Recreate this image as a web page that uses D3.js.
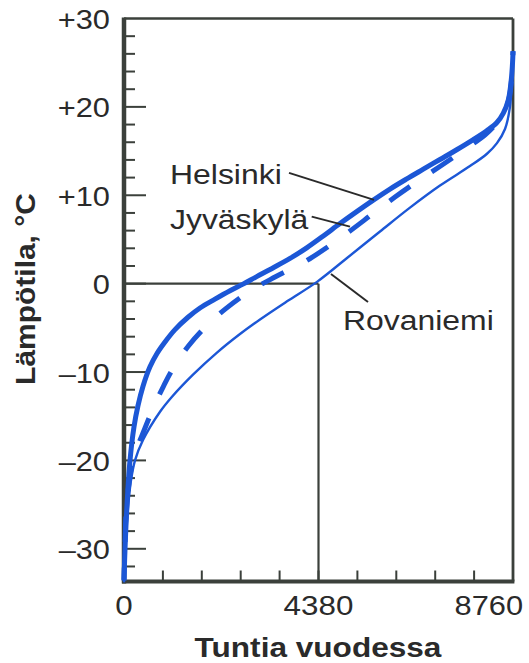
<!DOCTYPE html>
<html><head><meta charset="utf-8">
<script src="https://cdn.jsdelivr.net/npm/d3@7"></script>
<style>body{margin:0;background:#fff}svg{display:block}</style>
</head><body>
<svg id="c" width="529" height="663"></svg>
<script>
// ---- data (hours per year, temperature °C) ----
const helsinki = [[0,-33.5],[23,-30],[68,-25],[135,-20],[225,-16.2],[315,-13.8],[428,-11.6],[585,-9.4],[743,-7.9],[923,-6.6],[1148,-5.2],[1441,-3.8],[1711,-2.75],[2049,-1.75],[2387,-0.8],[2680,-0.05],[2988,0.8],[3362,1.8],[3738,2.85],[4114,4.05],[4488,5.4],[4864,6.8],[5240,8.15],[5614,9.45],[5990,10.7],[6366,11.85],[6740,12.95],[7116,14.05],[7492,15.15],[7866,16.3],[8168,17.3],[8393,18.2],[8542,19.3],[8655,20.8],[8720,23],[8750,25],[8760,26.3]];
const jyvaskyla = [[0,-33.6],[20,-30],[60,-25],[200,-20],[330,-18.1],[428,-16.9],[548,-15.4],[700,-13.6],[880,-11.7],[1074,-9.85],[1450,-7.05],[1862,-4.75],[2300,-2.8],[2850,-0.8],[3400,0.75],[4077,2.5],[4600,4.2],[5074,5.9],[5600,7.9],[6103,9.8],[6630,11.65],[7155,13.4],[7650,15.1],[8145,16.9],[8420,18.3],[8580,19.5],[8680,21.2],[8735,23.5],[8760,26.3]];
const rovaniemi = [[0,-33.8],[25,-30],[80,-26],[150,-22.5],[248,-20],[428,-17.7],[811,-14.5],[1081,-12.8],[1554,-10.3],[2094,-7.8],[2612,-5.7],[3063,-4.05],[3671,-2.0],[4346,0.2],[5022,2.9],[5765,5.9],[6440,8.6],[7116,11.1],[7791,13.3],[8174,14.7],[8399,15.9],[8580,17.5],[8692,20.0],[8738,23.3],[8760,26.3]];
const seriesNames = ["Helsinki","Jyväskylä","Rovaniemi"];
const yMajorTicks = [-30,-20,-10,0,10,20,30];
const yTickLabels = ["–30","–20","–10","0","+10","+20","+30"];
const xTickLabelValues = [0,4380,8760];
const xTickLabels = ["0","4380","8760"];
const xMinorStep = 876, yMinorStep = 2;
const medianHours = 4380, medianTemp = 0;
// annotation anchors in data units: [textHours, textTemp, leaderFromH, leaderFromT, leaderToH, leaderToT]
const annotations = [
  [1036, 11.28, 3716, 12.53, 5630, 9.48],
  [1036, 6.19, 4227, 7.58, 5089, 6.45],
  [4932, -5.24, 4661, 1.10, 5495, -2.07]
];

// ---- drawing ----
const svg = d3.select("#c");
const x = d3.scaleLinear().domain([0, 8760]).range([124, 513]);
const y = d3.scaleLinear().domain([-33.7, 30]).range([581.5, 18.5]);
const axisCol = "#3b403b", textCol = "#2a2a2a", blue = "#1c57d6";
const FONT = "'Liberation Sans', Arial, Helvetica, sans-serif";

function stext(str, tx, ty, size, weight, anchor, sx, rot) {
  return svg.append("text")
    .attr("transform", `translate(${tx},${ty})` + (rot ? ` rotate(${rot})` : "") + ` scale(${sx},1)`)
    .attr("font-family", FONT).attr("font-size", size).attr("font-weight", weight)
    .attr("text-anchor", anchor).attr("fill", textCol).text(str);
}

// minor ticks y
const yMinor = d3.range(-32, 30, yMinorStep);
svg.append("g").selectAll("line").data(yMinor).join("line")
  .attr("x1", x(0)).attr("x2", d => x(0) + (d % 10 === 0 ? 22 : 11))
  .attr("y1", d => y(d)).attr("y2", d => y(d))
  .attr("stroke", axisCol).attr("stroke-width", 2);

// minor ticks x
const xMinor = d3.range(xMinorStep, 8760, xMinorStep);
svg.append("g").selectAll("line").data(xMinor).join("line")
  .attr("x1", d => x(d)).attr("x2", d => x(d))
  .attr("y1", y(-33.7)).attr("y2", y(-33.7) - 11)
  .attr("stroke", axisCol).attr("stroke-width", 2);

// median guide lines
svg.append("line").attr("x1", x(0)).attr("x2", x(medianHours)).attr("y1", y(medianTemp)).attr("y2", y(medianTemp))
  .attr("stroke", axisCol).attr("stroke-width", 2.2);
svg.append("line").attr("x1", x(medianHours)).attr("x2", x(medianHours)).attr("y1", y(medianTemp)).attr("y2", y(-33.7))
  .attr("stroke", axisCol).attr("stroke-width", 2.2);

// frame
svg.append("line").attr("x1", x(0)).attr("x2", x(8760)).attr("y1", y(30)).attr("y2", y(30)).attr("stroke", axisCol).attr("stroke-width", 2.5);
svg.append("line").attr("x1", x(8760)).attr("x2", x(8760)).attr("y1", y(30)).attr("y2", y(-33.7)).attr("stroke", axisCol).attr("stroke-width", 2.8);
svg.append("line").attr("x1", x(0)).attr("x2", x(0)).attr("y1", y(30) - 1).attr("y2", y(-33.7) + 2).attr("stroke", axisCol).attr("stroke-width", 4.5);
svg.append("line").attr("x1", x(0) - 2).attr("x2", x(8760) + 1.4).attr("y1", y(-33.7)).attr("y2", y(-33.7)).attr("stroke", axisCol).attr("stroke-width", 4);

// curves
const line = d3.line().x(d => x(d[0])).y(d => y(d[1])).curve(d3.curveCatmullRom.alpha(0.5));
svg.append("path").attr("d", line(rovaniemi)).attr("fill", "none").attr("stroke", blue).attr("stroke-width", 2.4);
svg.append("path").attr("d", line(jyvaskyla)).attr("fill", "none").attr("stroke", blue).attr("stroke-width", 5).attr("stroke-dasharray", "25,26").attr("stroke-dashoffset", 12);
svg.append("path").attr("d", line(helsinki)).attr("fill", "none").attr("stroke", blue).attr("stroke-width", 5);

// y tick labels
yMajorTicks.forEach((v, i) => stext(yTickLabels[i], 110, y(v) + 10.5, 28, "normal", "end", 1.1));
// x tick labels
xTickLabelValues.forEach((v, i) => {
  if (i === xTickLabelValues.length - 1) stext(xTickLabels[i], 523, 615, 28, "normal", "end", 1.1);
  else stext(xTickLabels[i], x(v), 615, 28, "normal", "middle", 1.12);
});

// axis titles
stext("Tuntia vuodessa", 318, 657, 27, "bold", "middle", 1.17);
stext("Lämpötila, °C", 35, 289, 27, "bold", "middle", 1.11, -90);

// annotations
annotations.forEach((a, i) => {
  stext(seriesNames[i], x(a[0]), y(a[1]), 28, "normal", "start", 1.14);
  svg.append("line").attr("x1", x(a[2])).attr("y1", y(a[3])).attr("x2", x(a[4])).attr("y2", y(a[5]))
    .attr("stroke", "#2a2a2a").attr("stroke-width", 2);
});
</script>
</body></html>
